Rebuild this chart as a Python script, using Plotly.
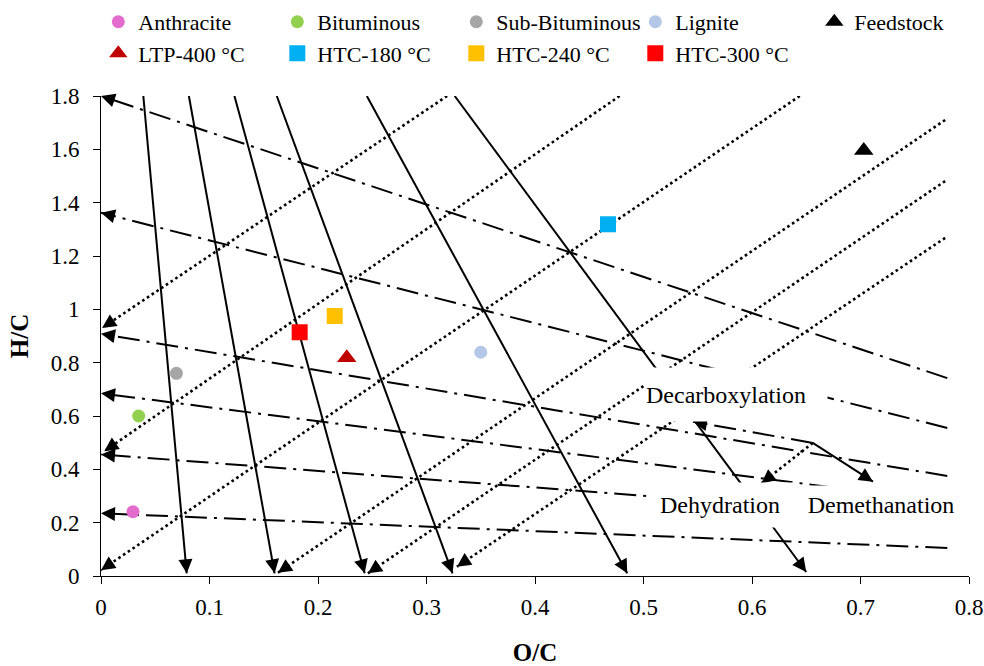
import math
import plotly.graph_objects as go

FONT = "Liberation Serif, Times New Roman, serif"

# ---------------- data ----------------
series_names = ["Anthracite", "Bituminous", "Sub-Bituminous", "Lignite", "Feedstock",
                "LTP-400 °C", "HTC-180 °C", "HTC-240 °C", "HTC-300 °C"]
series_oc = [0.0295, 0.0347, 0.0695, 0.350, 0.703, 0.2265, 0.4673, 0.2154, 0.1831]
series_hc = [0.241, 0.600, 0.760, 0.839, 1.596, 0.818, 1.319, 0.975, 0.914]
series_symbols = ["circle", "circle", "circle", "circle", "triangle-up",
                  "triangle-up", "square", "square", "square"]
series_colors = ["#E36BCE", "#92D050", "#A6A6A6", "#B4C7E7", "#000000",
                 "#C00000", "#00B0F0", "#FFC000", "#FF0000"]
series_sizes = [13, 13, 13, 13, 17, 17, 16, 16, 16]

# Demethanation lines (solid): start -> arrow tip
demeth_x0 = [0.039, 0.081, 0.123, 0.162, 0.245, 0.326]
demeth_y0 = [1.80, 1.80, 1.80, 1.80, 1.80, 1.80]
demeth_x1 = [0.079, 0.160, 0.243, 0.324, 0.485, 0.650]
demeth_y1 = [0.010, 0.010, 0.010, 0.010, 0.010, 0.015]

# Dehydration lines (dotted): start -> arrow tip
dehyd_x0 = [0.644, 0.478, 0.319, 0.778, 0.778, 0.778]
dehyd_y0 = [1.80, 1.80, 1.80, 1.710, 1.481, 1.268]
dehyd_x1 = [0.000, 0.003, 0.001, 0.163, 0.246, 0.328]
dehyd_y1 = [0.022, 0.468, 0.930, 0.012, 0.010, 0.035]

# Decarboxylation lines (dash-dot): start -> arrow tip
decarb_x0 = [0.78, 0.78, 0.78, 0.78, 0.78, 0.78]
decarb_y0 = [0.742, 0.555, 0.375, 0.277, 0.214, 0.105]
decarb_x1 = [0.0, 0.0, 0.0, 0.0, 0.0, 0.0]
decarb_y1 = [1.800, 1.362, 0.908, 0.685, 0.456, 0.235]

# Key diagram (centre and three arrow tips)
key_center = (0.656, 0.499)
key_decarb_tip = (0.5456, 0.5786)
key_dehyd_tip = (0.6087, 0.3476)
key_demeth_tip = (0.7115, 0.3536)

# Labels (text, x, y, box width px, box height px, alignment)
labels = [
    ("Decarboxylation", 0.585, 0.6805, 180, 51, "left"),
    ("Dehydration", 0.5702, 0.2660, 144, 42, "center"),
    ("Demethanation", 0.7186, 0.2660, 164, 36, "center"),
]

x_ticks = [0, 0.1, 0.2, 0.3, 0.4, 0.5, 0.6, 0.7, 0.8]
x_ticktext = ["0", "0.1", "0.2", "0.3", "0.4", "0.5", "0.6", "0.7", "0.8"]
y_ticks = [0, 0.2, 0.4, 0.6, 0.8, 1.0, 1.2, 1.4, 1.6, 1.8]
y_ticktext = ["0", "0.2", "0.4", "0.6", "0.8", "1", "1.2", "1.4", "1.6", "1.8"]

X_RANGE = [0, 0.8]
Y_RANGE = [0, 1.8]

# ---------------- layout geometry ----------------
W, H = 984, 666
ML, MR, MT, MB = 101, 15, 96, 90
PW = W - ML - MR
PH = H - MT - MB
SX = PW / (X_RANGE[1] - X_RANGE[0])
SY = PH / (Y_RANGE[1] - Y_RANGE[0])

DOT = "2.6px,3.1px"
DASHDOT = "22px,7px,3px,7px"

fig = go.Figure()
annotations = []


def add_arrow_line(x0, y0, x1, y1, dash):
    fig.add_trace(go.Scatter(
        x=[x0, x1], y=[y0, y1], mode="lines",
        line=dict(color="black", width=2.6 if dash == DOT else 2, dash=dash),
        showlegend=False, hoverinfo="skip"))
    ux = (x1 - x0) * SX
    uy = -(y1 - y0) * SY
    n = math.hypot(ux, uy)
    L = 10.0
    annotations.append(dict(
        x=x1, y=y1, xref="x", yref="y", text="", showarrow=True,
        ax=-ux / n * L, ay=-uy / n * L, axref="pixel", ayref="pixel",
        arrowhead=2, arrowsize=1.4, arrowwidth=2, arrowcolor="black"))


for a, b, c, d in zip(demeth_x0, demeth_y0, demeth_x1, demeth_y1):
    add_arrow_line(a, b, c, d, "solid")
for a, b, c, d in zip(dehyd_x0, dehyd_y0, dehyd_x1, dehyd_y1):
    add_arrow_line(a, b, c, d, DOT)
for a, b, c, d in zip(decarb_x0, decarb_y0, decarb_x1, decarb_y1):
    add_arrow_line(a, b, c, d, DASHDOT)

add_arrow_line(key_center[0], key_center[1], key_decarb_tip[0], key_decarb_tip[1], DASHDOT)
add_arrow_line(key_center[0], key_center[1], key_dehyd_tip[0], key_dehyd_tip[1], DOT)
add_arrow_line(key_center[0], key_center[1], key_demeth_tip[0], key_demeth_tip[1], "solid")

for name, xv, yv, sym, col, sz in zip(series_names, series_oc, series_hc,
                                       series_symbols, series_colors, series_sizes):
    fig.add_trace(go.Scatter(
        x=[xv], y=[yv], mode="markers", name=name,
        marker=dict(symbol=sym, color=col, size=sz, line=dict(width=0)),
        showlegend=True))

for txt, xv, yv, bw, bh, al in labels:
    annotations.append(dict(
        x=xv, y=yv, xref="x", yref="y", text=txt, showarrow=False,
        xanchor="center", yanchor="middle", bgcolor="white", borderpad=1,
        width=bw, height=bh, align=al,
        font=dict(family=FONT, size=24, color="black")))

axis_common = dict(
    showline=True, linecolor="black", linewidth=1, ticks="outside", ticklen=7,
    tickwidth=1, tickcolor="black", showgrid=False, zeroline=False,
    tickfont=dict(family=FONT, size=23, color="black"))

fig.update_layout(
    width=W, height=H,
    margin=dict(l=ML, r=MR, t=MT, b=MB, autoexpand=False),
    paper_bgcolor="white", plot_bgcolor="white",
    xaxis=dict(range=X_RANGE, tickvals=x_ticks, ticktext=x_ticktext,
               title=dict(text="<b>O/C</b>", font=dict(family=FONT, size=25, color="black"), standoff=28),
               ticklabelstandoff=3, **axis_common),
    yaxis=dict(range=Y_RANGE, tickvals=y_ticks, ticktext=y_ticktext,
               title=dict(text="<b>H/C</b>", font=dict(family=FONT, size=25, color="black"), standoff=14),
               ticklabelstandoff=9, **axis_common),
    legend=dict(orientation="h", x=-0.0031, y=1.198, xanchor="left", yanchor="top",
                entrywidth=134, entrywidthmode="pixels", traceorder="normal",
                font=dict(family=FONT, size=22, color="black"), bgcolor="rgba(0,0,0,0)"),
    annotations=annotations,
    showlegend=True,
)

# remove the browser's default 8px page margin so the figure fills the window exactly
fig.write_html("out.html", config={"displayModeBar": False},
               post_script="document.body.style.margin='0px';")
